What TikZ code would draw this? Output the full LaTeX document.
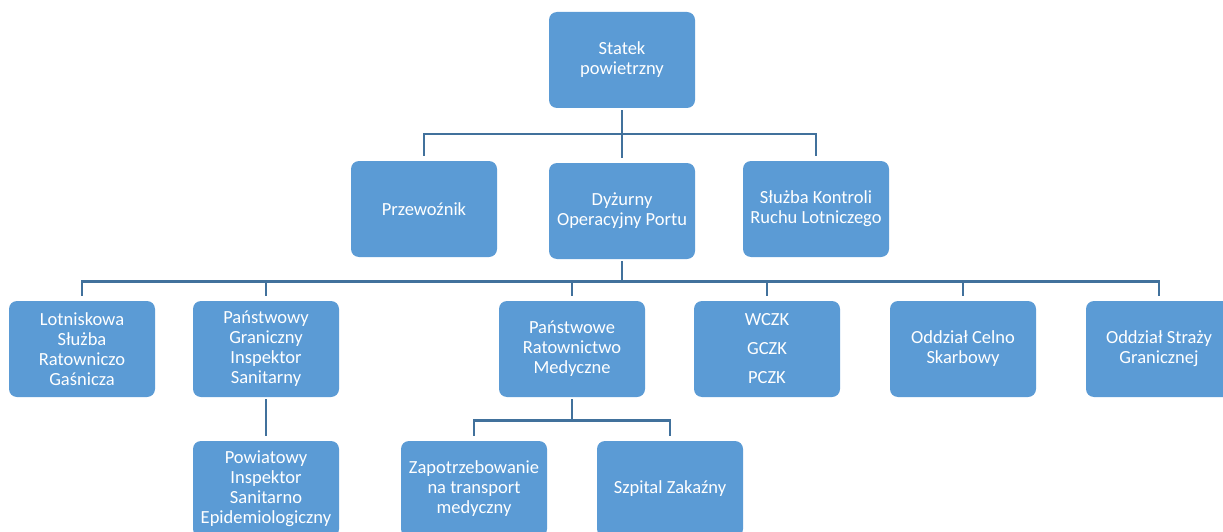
\documentclass[tikz,border=0pt]{standalone}
\usepackage{fontspec}
\setmainfont{Carlito}
\usetikzlibrary{positioning}
\definecolor{orgfill}{HTML}{5B9BD5}
\definecolor{orgline}{HTML}{41719C}
\tikzset{
  bx/.style={rounded corners=8pt, fill=orgfill, text=white, align=center, minimum width=146pt, minimum height=96pt, inner sep=2pt, font=\fontsize{18.5}{20}\selectfont},
  tie/.style={draw=orgline, line width=2.6pt, shorten <=2pt, shorten >=5pt},
}

\begin{document}
\begin{tikzpicture}[x=1pt, y=-1pt]
    \useasboundingbox (0,0) rectangle (1223,532);
    \clip (0,0) rectangle (1223,532);
    % top
    \node[bx] (stat) at (622,60) {Statek\\powietrzny};
    % second row
    \node[bx] (przew) at (424,209) {Przewoźnik};
    \node[bx] (dyz) at (622,211) {Dyżurny\\Operacyjny Portu};
    \node[bx] (atc) at (816,209) {Służba Kontroli\\Ruchu Lotniczego};
    % third row
    \node[bx] (lsrg) at (82,349) {Lotniskowa\\Służba\\Ratowniczo\\Gaśnicza};
    \node[bx] (pgis) at (266,349) {Państwowy\\Graniczny\\Inspektor\\Sanitarny};
    \node[bx] (prm) at (572,349) {Państwowe\\Ratownictwo\\Medyczne};
    \node[bx] (czk) at (767,349) {WCZK\\[9pt]GCZK\\[9pt]PCZK};
    \node[bx] (ocs) at (963,349) {Oddział Celno\\Skarbowy};
    \node[bx] (osg) at (1159,349) {Oddział Straży\\Granicznej};
    % bottom row
    \node[bx] (pis) at (266,489) {Powiatowy\\Inspektor\\Sanitarno\\Epidemiologiczny};
    \node[bx] (ztm) at (474,489) {Zapotrzebowanie\\na transport\\medyczny};
    \node[bx] (szp) at (670,489) {Szpital Zakaźny};
    % connectors
    \draw[tie] (stat.south) -- ++(0,26) -| (przew.north);
    \draw[tie] (stat.south) -- ++(0,26) -| (dyz.north);
    \draw[tie] (stat.south) -- ++(0,26) -| (atc.north);
    \draw[tie] (dyz.south) -- ++(0,22) -| (lsrg.north);
    \draw[tie] (dyz.south) -- ++(0,22) -| (pgis.north);
    \draw[tie] (dyz.south) -- ++(0,22) -| (prm.north);
    \draw[tie] (dyz.south) -- ++(0,22) -| (czk.north);
    \draw[tie] (dyz.south) -- ++(0,22) -| (ocs.north);
    \draw[tie] (dyz.south) -- ++(0,22) -| (osg.north);
    \draw[tie] (pgis.south) -- (pis.north);
    \draw[tie] (prm.south) -- ++(0,23) -| (ztm.north);
    \draw[tie] (prm.south) -- ++(0,23) -| (szp.north);
\end{tikzpicture}
\end{document}
